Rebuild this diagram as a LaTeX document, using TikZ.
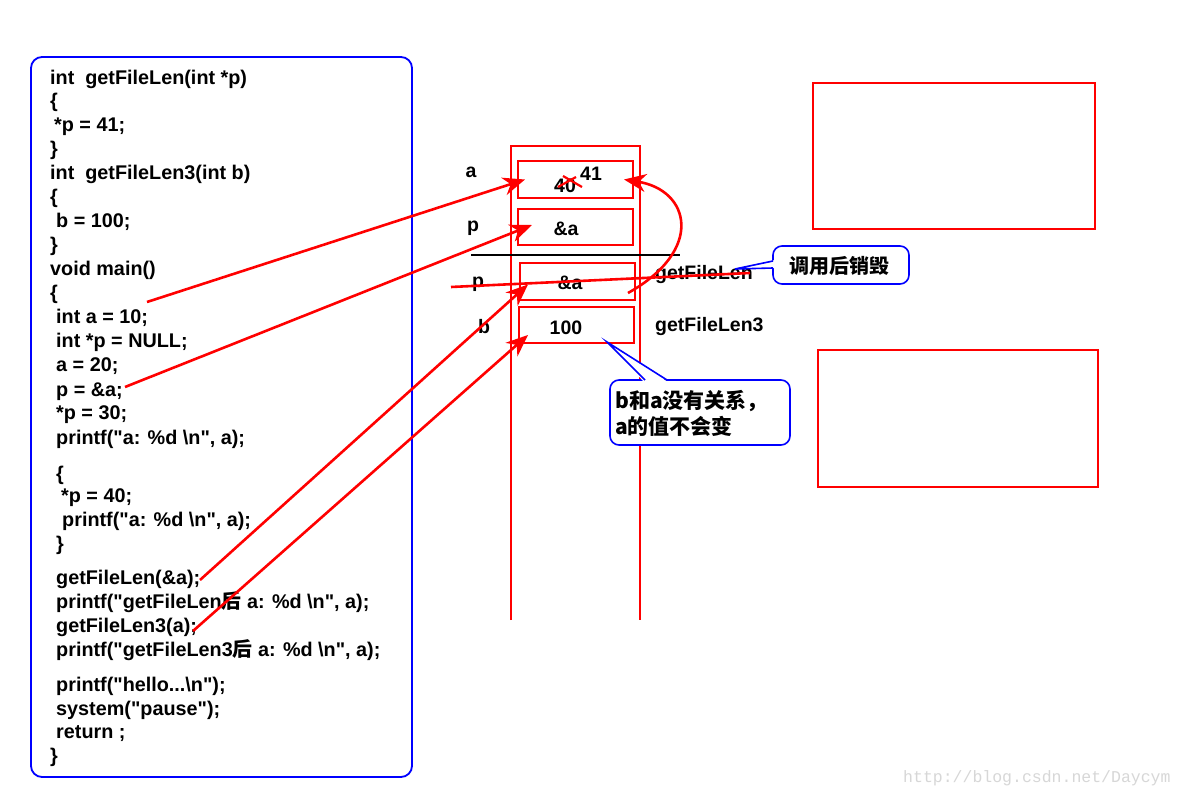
\documentclass[tikz,border=0pt]{standalone}
\usepackage{fontspec}
\setmainfont{Liberation Sans}
\newfontfamily\arialb{Liberation Sans}
\newfontfamily\cjk{Noto Sans CJK SC}
\newfontfamily\wmfont{Liberation Mono}
\usetikzlibrary{arrows.meta}
\definecolor{cblue}{RGB}{0,0,255}
\definecolor{cred}{RGB}{255,0,0}
\definecolor{wmgray}{RGB}{215,215,215}
\tikzset{
  code/.style={anchor=base west,inner sep=0pt,font=\arialb\fontsize{19.8}{19.8}\selectfont\bfseries},
  lbl/.style={inner sep=0pt,font=\arialb\fontsize{19.5}{19.5}\selectfont\bfseries},
  cell/.style={draw=cred,line width=2pt,inner sep=0pt},
  redarrow/.style={draw=cred,line width=2.6pt,-{Stealth[length=22pt,width=18pt,inset=7pt]}},
  redline/.style={draw=cred,line width=2.6pt},
  callout/.style={draw=cblue,line width=1.6pt,fill=white,rounded corners=9pt},
  ctext/.style={inner sep=0pt,font=\cjk\fontsize{21}{26}\selectfont\bfseries,align=left},
}
\begin{document}
\begin{tikzpicture}[x=1pt,y=-1pt]
\useasboundingbox[fill=white] (0,0) rectangle (1186,799);
% code box
\draw[cblue,line width=1.8pt,rounded corners=11pt] (31,57) rectangle (412,777);
\node[code] (c1) at (50,85) {int\ \ getFileLen(int *p)};
\node[code] (c2) at (50,108) {\{};
\node[code] (c3) at (54,132) {*p = 41;};
\node[code] (c4) at (50,156) {\}};
\node[code] (c5) at (50,180) {int\ \ getFileLen3(int b)};
\node[code] (c6) at (50,204) {\{};
\node[code] (c7) at (56,228) {b = 100;};
\node[code] (c8) at (50,252) {\}};
\node[code] (c9) at (50,276) {void main()};
\node[code] (c10) at (50,300) {\{};
\node[code] (c11) at (56,324) {int a = 10;};
\node[code] (c12) at (56,348) {int *p = NULL;};
\node[code] (c13) at (56,372) {a = 20;};
\node[code] (c14) at (56,396) {p = \&a;};
\node[code] (c15) at (56,420) {*p = 30;};
\node[code] (c16) at (56,444) {printf("a: \%d \textbackslash n", a);};
\node[code] (c17) at (56,480) {\{};
\node[code] (c18) at (61,502) {*p = 40;};
\node[code] (c19) at (62,526) {printf("a: \%d \textbackslash n", a);};
\node[code] (c20) at (56,550) {\}};
\node[code] (c21) at (56,584) {getFileLen(\&a);};
\node[code] (c22) at (56,608) {printf("getFileLen{\cjk 后} a: \%d \textbackslash n", a);};
\node[code] (c23) at (56,632) {getFileLen3(a);};
\node[code] (c24) at (56,656) {printf("getFileLen3{\cjk 后} a: \%d \textbackslash n", a);};
\node[code] (c25) at (56,691) {printf("hello...\textbackslash n");};
\node[code] (c26) at (56,715) {system("pause");};
\node[code] (c27) at (56,738) {return ;};
\node[code] (c28) at (50,762) {\}};
% stack column
\draw[cred,line width=2pt] (511,620) -- (511,146) -- (640,146) -- (640,620);
\node[cell,minimum width=115pt,minimum height=37pt] (abox) at (575.5,179.5) {};
\node[cell,minimum width=115pt,minimum height=36pt] (pbox) at (575.5,227) {};
\draw[black,line width=2.4pt] (471,255) -- (680,255);
\node[cell,minimum width=115pt,minimum height=37pt] (p2box) at (577.5,281.5) {};
\node[cell,minimum width=115pt,minimum height=36pt] (bbox) at (576.5,325) {};
% labels
\node[lbl] (la) at (471,172) {a};
\node[lbl] (lp) at (473,228) {p};
\node[lbl] (lp2) at (478,284) {p};
\node[lbl] (lb) at (484,327) {b};
\node[lbl,anchor=west] (g1) at (655,275) {getFileLen};
\node[lbl,anchor=west] (g2) at (655,327) {getFileLen3};
\node[lbl] (v40) at (565,186) {40};
\node[lbl] (v41) at (591,174) {41};
\node[lbl] (vpa) at (566,229) {\&a};
\node[lbl] (vp2a) at (570,283) {\&a};
\node[lbl] (v100) at (566,328) {100};
% red X over old value
\draw[cred,line width=2.2pt] (558,187) -- (576,177);
\draw[cred,line width=2.2pt] (563,176) -- (582,187);
% right rectangles
\draw[cred,line width=1.6pt] (813,83) rectangle (1095,229);
\draw[cred,line width=1.6pt] (818,350) rectangle (1098,487);
% arrows from code
\coordinate (s1) at (147,302);
\coordinate (s2) at (125,387);
\coordinate (s3) at (200,580);
\coordinate (s4) at (193,631);
\draw[redarrow] (s1) -- ([xshift=8pt]abox.west);
\draw[redarrow] (s2) -- ([xshift=15pt,yshift=2pt]pbox.west);
\draw[redarrow] (s3) -- ([xshift=9pt,yshift=-3pt]p2box.west);
\draw[redarrow] (s4) -- ([xshift=10pt,yshift=-10pt]bbox.west);
% curved arrow from p2 to a
\coordinate (cs) at (628,293);
\draw[redarrow] (cs) .. controls (705,250) and (690,190) .. ([xshift=-10pt]abox.east);
% strike line (destroyed after call)
\coordinate (st1) at (451,287);
\coordinate (st2) at (750,273);
\draw[redline] (st1) -- (st2);
% callout 1
\node[callout,minimum width=136pt,minimum height=38pt,inner sep=0pt] (co1) at (841,265) {};
\fill[white] (775,260) -- (735,269) -- (775,268) -- cycle;
\draw[cblue,line width=1.6pt] (773,261) -- (735,269) -- (773,268);
\node[ctext,font=\cjk\fontsize{20}{20}\selectfont\bfseries] (co1t) at (839,266) {调用后销毁};
% callout 2
\node[callout,minimum width=180pt,minimum height=65pt,inner sep=0pt] (co2) at (700,412.5) {};
\fill[white] (644,382) -- (607,342) -- (668,382) -- cycle;
\draw[cblue,line width=1.6pt] (645,380) -- (607,342) -- (667,380);
\node[ctext,anchor=west] (co2t) at (615,413) {b和a没有关系，\\a的值不会变};
% watermark
\node[anchor=west,inner sep=0pt,text=wmgray,font=\wmfont\fontsize{16.5}{16.5}\selectfont] (wm) at (903,778) {http://blog.csdn.net/Daycym};
\end{tikzpicture}
\end{document}
